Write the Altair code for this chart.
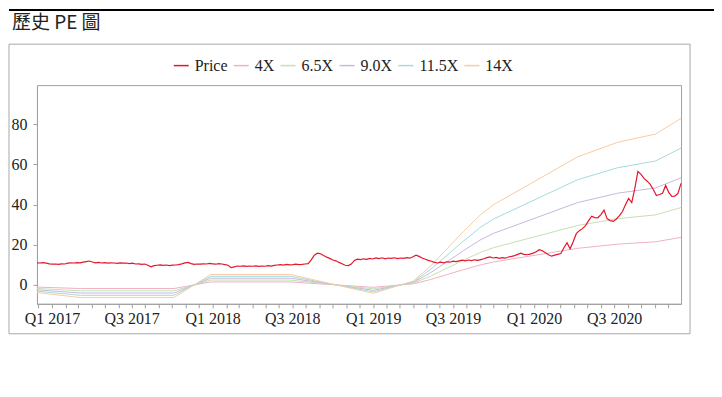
import altair as alt
import pandas as pd

# ---- data ----
price_start = "2016-11-28"
price_values = [
    11.0, 10.9, 11.1, 10.8, 10.5, 10.3, 10.4, 10.2, 10.5, 10.4,
    10.8, 11.0, 10.9, 11.1, 11.0, 11.3, 11.6, 11.9, 11.4, 11.0,
    11.2, 10.9, 11.1, 10.8, 11.0, 10.9, 10.7, 11.0, 10.8, 10.9,
    10.6, 10.8, 10.4, 10.5, 10.2, 10.4, 9.8, 9.0, 9.6, 9.8,
    10.0, 9.7, 9.9, 9.6, 9.8, 9.9, 10.1, 10.5, 11.0, 11.2,
    10.6, 10.2, 10.4, 10.3, 10.5, 10.4, 10.7, 10.5, 10.3, 10.6,
    10.4, 10.1, 9.8, 8.6, 9.0, 9.4, 9.3, 9.5, 9.2, 9.4,
    9.3, 9.5, 9.2, 9.4, 9.3, 9.6, 9.4, 9.7, 9.9, 10.1,
    9.9, 10.2, 10.0, 10.1, 10.3, 10.1, 10.2, 10.4, 10.6, 12.5,
    14.8, 15.8, 15.5, 14.6, 13.8, 13.2, 12.4, 12.0, 11.2, 10.5,
    9.8, 9.6, 10.4, 12.2, 12.8, 12.6, 13.0, 12.7, 13.2, 12.9,
    13.4, 13.1, 13.5, 13.0, 13.4, 13.2, 13.5, 13.1, 13.4, 13.2,
    13.6, 13.3, 14.0, 14.8, 14.2, 13.4, 12.8, 12.2, 11.8, 11.2,
    10.9, 11.3, 11.0, 11.5, 11.3, 11.8, 11.6, 12.0, 12.3, 12.0,
    12.4, 12.1, 12.5, 12.2, 12.6, 13.0, 13.6, 13.9, 13.4, 13.7,
    13.2, 13.6, 13.3, 13.9, 14.2, 14.6, 15.2, 15.8, 15.2, 15.0,
    15.3, 15.8, 16.5, 17.5, 17.0, 16.0, 15.0, 14.3, 14.8, 15.2,
    15.6, 18.5, 21.0, 18.0, 21.5, 25.5, 27.0, 28.0, 29.5, 32.0,
    34.2, 33.5, 33.4, 35.0, 37.2, 33.0, 32.0, 31.6, 32.8, 34.5,
    36.5, 40.0, 43.0, 41.0, 48.0, 56.5, 55.0, 53.0, 51.6, 50.0,
    47.5, 44.5, 45.0, 45.6, 49.5, 46.0, 44.0, 44.2, 45.5, 50.5,
]

eps_dates = [
    "2016-11-28", "2017-03-07", "2017-10-05", "2017-12-28", "2018-06-27",
    "2019-01-01", "2019-03-04", "2019-04-02", "2019-05-11", "2019-06-19",
    "2019-07-25", "2019-09-02", "2019-10-01", "2020-04-09", "2020-07-09",
    "2020-10-03", "2020-11-30",
]
eps_values = [
    -0.27, -0.45, -0.45, 0.37, 0.37,
    -0.30, 0.00, 0.14, 0.67, 1.31,
    1.90, 2.50, 2.85, 4.55, 5.07,
    5.36, 5.92,
]

band_names = ["4X", "6.5X", "9.0X", "11.5X", "14X"]
band_multiples = [4.0, 6.5, 9.0, 11.5, 14.0]

series_order = ["Price"] + band_names
series_colors = ["#e3172d", "#efb1c6", "#c6e0b0", "#c4bade", "#a6d9dc", "#f9cba2"]

title_text = "歷史 PE 圖"

# ---- tables ----
price_df = pd.DataFrame({
    "date": pd.date_range(price_start, periods=len(price_values), freq="7D").strftime("%Y-%m-%d"),
    "value": price_values,
    "series": "Price",
})

band_rows = []
for name, mult in zip(band_names, band_multiples):
    for d, e in zip(eps_dates, eps_values):
        band_rows.append({"date": d, "value": round(mult * e, 3), "series": name})
band_df = pd.DataFrame(band_rows)

W, H = 645, 219
FONT = "Liberation Serif"

color_scale = alt.Scale(domain=series_order, range=series_colors)

x_enc = alt.X(
    "date:T",
    scale=alt.Scale(nice=False),
    axis=alt.Axis(
        title=None,
        tickCount=alt.TimeIntervalStep(interval="month", step=1),
        labelExpr="month(datum.value) % 6 == 0 ? 'Q' + (month(datum.value) == 0 ? 1 : 3) + ' ' + year(datum.value) : ''",
        labelOverlap=False,
        labelFlush=False,
        labelBound=False,
        grid=False,
        tickSize=4,
        labelPadding=3,
    ),
)
y_enc = alt.Y(
    "value:Q",
    scale=alt.Scale(domain=[-9.4, 99.4], nice=False, zero=False),
    axis=alt.Axis(
        title=None,
        values=[0, 10, 20, 30, 40, 50, 60, 70, 80, 90],
        labelExpr="datum.value % 20 == 0 ? datum.value : ''",
        grid=False,
        tickSize=4,
        labelPadding=6,
    ),
)

one = pd.DataFrame({"k": [0]})

box = alt.Chart(one).mark_rect(filled=False, stroke="#a8a8a8", strokeWidth=1).encode(
    x=alt.value(-28), x2=alt.value(654), y=alt.value(-41), y2=alt.value(249)
)
bar = alt.Chart(one).mark_rect(color="#000000").encode(
    x=alt.value(-28), x2=alt.value(678), y=alt.value(-76.3), y2=alt.value(-74.3)
)
title = alt.Chart(one).mark_text(
    text=title_text, font="Noto Sans CJK TC", fontSize=19, align="left",
    baseline="alphabetic", color="#222222"
).encode(x=alt.value(-25), y=alt.value(-56.3))

bands = alt.Chart(band_df).mark_line(strokeWidth=1).encode(
    x=x_enc,
    y=y_enc,
    color=alt.Color(
        "series:N",
        scale=color_scale,
        legend=alt.Legend(
            title=None,
            orient="none",
            legendX=136,
            legendY=-28.3,
            direction="horizontal",
            symbolType="stroke",
            symbolSize=225,
            symbolStrokeWidth=1.5,
            labelFont=FONT,
            labelFontSize=16,
            labelColor="#222222",
            columnPadding=3,
            labelOffset=5,
            padding=0,
        ),
    ),
    detail="series:N",
)

price = alt.Chart(price_df).mark_line(strokeWidth=1.2).encode(
    x="date:T",
    y="value:Q",
    color=alt.Color("series:N", scale=color_scale),
)

chart = alt.layer(box, bar, title, bands, price).properties(
    width=W, height=H, padding=0
).configure_view(
    stroke="#a0a0a0", strokeWidth=1
).configure_axis(
    labelFont=FONT,
    labelFontSize=16,
    labelColor="#222222",
    domainColor="#a0a0a0",
    tickColor="#a0a0a0",
)

chart.save("out.html", embed_options={"renderer": "svg", "actions": False})
